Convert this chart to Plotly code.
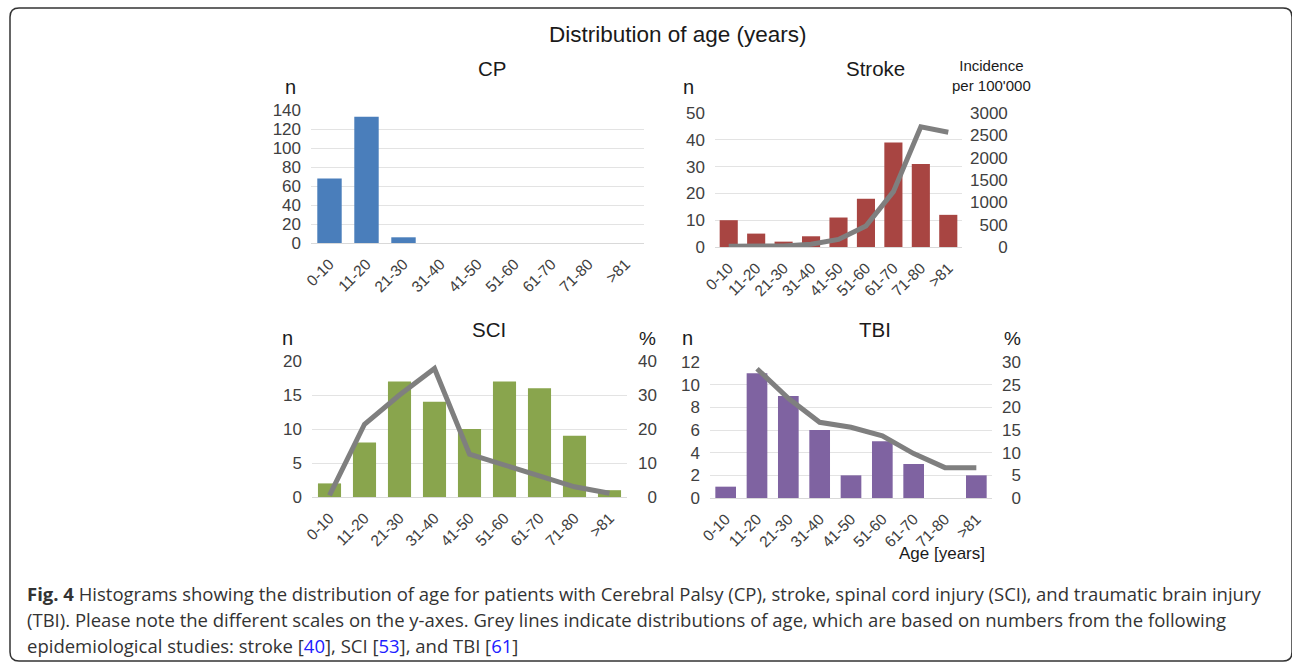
import plotly.graph_objects as go

# ---------------- data ----------------
categories = ["0-10", "11-20", "21-30", "31-40", "41-50", "51-60", "61-70", "71-80", ">81"]
cp_n = [68, 133, 6, 0, 0, 0, 0, 0, 0]
stroke_n = [10, 5, 2, 4, 11, 18, 39, 31, 12]
stroke_incidence = [15, 15, 25, 60, 170, 470, 1240, 2690, 2570]
sci_n = [2, 8, 17, 14, 10, 17, 16, 9, 1]
sci_pct = [0.5, 21.4, 30, 37.8, 12.6, 9.4, 6.0, 3.0, 1.1]
tbi_n = [1, 11, 9, 6, 2, 5, 3, 0, 2]
tbi_pct = [None, 28.5, 22.0, 16.7, 15.6, 13.7, 9.8, 6.7, 6.7]

stroke_right_ticks = [0, 500, 1000, 1500, 2000, 2500, 3000]
sci_right_ticks = [0, 10, 20, 30, 40]
tbi_right_ticks = [0, 5, 10, 15, 20, 25, 30]

W, H = 1292, 662
def fx(px):
    return px / W
def fy(py):
    return 1 - py / H

FONT = "Liberation Sans, Arial, sans-serif"
TICKC = "#404040"
GRID = "#e3e3e3"
LINEC = "#7f7f7f"
FIGSP = "\u2007"

def padded(vals):
    w = max(len(str(v)) for v in vals)
    return [FIGSP * (w - len(str(v))) + str(v) for v in vals]

fig = go.Figure()

panels = [
    dict(x=(311, 644), y=(110, 243), yr=140, dt=20, color="#4a7ebb", n=cp_n),
    dict(x=(715, 962), y=(113, 247), yr=50, dt=10, color="#a84542", n=stroke_n),
    dict(x=(312, 627), y=(361, 497), yr=20, dt=5, color="#89a54d", n=sci_n),
    dict(x=(710, 992), y=(362, 498), yr=12, dt=2, color="#7f63a1", n=tbi_n),
]

layout = dict(
    width=W, height=H,
    margin=dict(l=0, r=0, t=0, b=0, autoexpand=False),
    paper_bgcolor="white", plot_bgcolor="rgba(0,0,0,0)",
    showlegend=False, bargap=0.34,
    font=dict(family=FONT, color=TICKC),
)

for i, p in enumerate(panels, start=1):
    xa = "x" if i == 1 else f"x{i}"
    ya = "y" if i == 1 else f"y{i}"
    fig.add_trace(go.Bar(x=categories, y=p["n"], marker=dict(color=p["color"], line=dict(width=0)),
                         xaxis=xa, yaxis=ya, hoverinfo="x+y"))
    layout["xaxis" if i == 1 else f"xaxis{i}"] = dict(
        domain=[fx(p["x"][0]), fx(p["x"][1])], anchor=ya, automargin=False,
        type="category", range=[-0.5, 8.5], tickangle=-45,
        tickfont=dict(size=15.5, color=TICKC, family=FONT),
        showgrid=False, showline=True, linecolor="#d9d9d9", linewidth=1, ticks="",
        ticklabelstandoff=5,
    )
    layout["yaxis" if i == 1 else f"yaxis{i}"] = dict(
        domain=[fy(p["y"][1]), fy(p["y"][0])], anchor=xa, automargin=False,
        range=[0, p["yr"]], dtick=p["dt"], showgrid=True, gridcolor=GRID, gridwidth=1,
        zeroline=False, showline=False, ticks="",
        tickfont=dict(size=17, color=TICKC, family=FONT), ticklabelstandoff=9,
    )

sec = [
    (2, stroke_incidence, 3000, stroke_right_ticks, 7),
    (3, sci_pct, 40, sci_right_ticks, 10),
    (4, tbi_pct, 30, tbi_right_ticks, 9),
]
for k, (i, vals, rng, ticks, standoff) in enumerate(sec, start=5):
    xa = f"x{i}"
    ya = f"y{k}"
    fig.add_trace(go.Scatter(x=categories, y=vals, mode="lines",
                             line=dict(color=LINEC, width=5), xaxis=xa, yaxis=ya,
                             connectgaps=False, hoverinfo="x+y"))
    layout[f"yaxis{k}"] = dict(
        overlaying=f"y{i}", side="right", anchor=xa, automargin=False,
        range=[0, rng], tickmode="array", tickvals=ticks, ticktext=padded(ticks),
        showgrid=False, zeroline=False, showline=False, ticks="",
        tickfont=dict(size=17, color=TICKC, family=FONT), ticklabelstandoff=standoff,
    )

fig.update_layout(**layout)

def ann(text, x, y, size, xanchor="center", yanchor="middle", color="#1a1a1a", family=FONT):
    fig.add_annotation(text=text, x=fx(x), y=fy(y), xref="paper", yref="paper",
                       showarrow=False, xanchor=xanchor, yanchor=yanchor,
                       font=dict(size=size, color=color, family=family))

ann("Distribution of age (years)", 678, 35, 22.5)
ann("CP", 492, 68, 20.5)
ann("Stroke", 875, 68, 20.5)
ann("SCI", 489, 329, 20.5)
ann("TBI", 875, 329, 20.5)
ann("n", 290, 87, 20)
ann("n", 688, 87, 20)
ann("n", 287, 338, 20)
ann("n", 687, 338, 20)
ann("%", 647, 338, 19)
ann("%", 1012, 338, 19)
ann("Incidence<br>per 100'000", 950, 75, 15, xanchor="left")
ann("Age [years]", 942, 553, 17)

CAP = "Open Sans, sans-serif"
blue = "color:#2020ff"
cap_lines = [
    "<b>Fig. 4</b> Histograms showing the distribution of age for patients with Cerebral Palsy (CP), stroke, spinal cord injury (SCI), and traumatic brain injury",
    "(TBI). Please note the different scales on the y-axes. Grey lines indicate distributions of age, which are based on numbers from the following",
    f"epidemiological studies: stroke [<span style='{blue}'>40</span>], SCI [<span style='{blue}'>53</span>], and TBI [<span style='{blue}'>61</span>]",
]
for j, t in enumerate(cap_lines):
    ann(t, 25, 593 + 26 * j, 18.5, xanchor="left", color="#333333", family=CAP)

r = 9
x0, x1, y0, y1 = 10, 1292, 8, 661
path = (f"M {fx(x0 + r)} {fy(y0)} L {fx(x1 - r)} {fy(y0)} "
        f"Q {fx(x1)} {fy(y0)} {fx(x1)} {fy(y0 + r)} L {fx(x1)} {fy(y1 - r)} "
        f"Q {fx(x1)} {fy(y1)} {fx(x1 - r)} {fy(y1)} L {fx(x0 + r)} {fy(y1)} "
        f"Q {fx(x0)} {fy(y1)} {fx(x0)} {fy(y1 - r)} L {fx(x0)} {fy(y0 + r)} "
        f"Q {fx(x0)} {fy(y0)} {fx(x0 + r)} {fy(y0)} Z")
fig.add_shape(type="path", path=path, xref="paper", yref="paper",
              line=dict(color="#333333", width=1.5))

fig.write_html(
    "out.html",
    config={"displayModeBar": False},
    post_script="document.body.style.margin='0';document.body.style.overflow='hidden';"
                "document.documentElement.style.overflow='hidden';",
)
